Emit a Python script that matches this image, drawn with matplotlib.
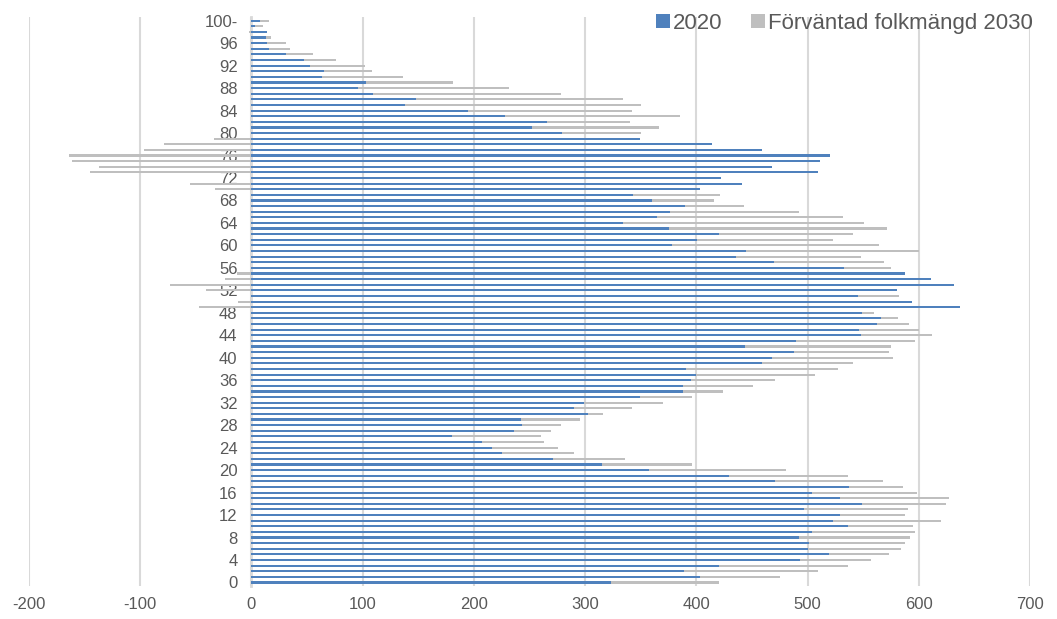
import matplotlib.pyplot as plt
import numpy as np

# åldrar 0..99 samt "100-"
ages = list(range(101))
age_labels = [str(a) for a in range(100)] + ['100-']

pop_2020 = [323, 403, 389, 420, 493, 519, 500, 501, 492, 504,
            536, 523, 529, 497, 549, 529, 504, 537, 471, 429,
            357, 315, 271, 225, 216, 207, 180, 236, 243, 242,
            303, 290, 299, 349, 388, 388, 395, 400, 391, 459,
            468, 488, 444, 490, 548, 546, 562, 566, 549, 637,
            594, 545, 580, 632, 611, 588, 533, 470, 436, 445,
            378, 401, 420, 375, 334, 365, 376, 390, 360, 343,
            403, 441, 422, 509, 468, 511, 520, 459, 414, 349,
            279, 252, 266, 228, 195, 138, 148, 109, 96, 103,
            63, 65, 53, 47, 31, 16, 14, 13, 14, 3,
            8]

pop_2030 = [420, 475, 509, 536, 557, 573, 584, 588, 592, 597,
            595, 620, 588, 590, 624, 627, 598, 586, 568, 536,
            481, 396, 336, 290, 276, 263, 260, 269, 278, 295,
            316, 342, 370, 396, 424, 451, 471, 507, 527, 541,
            577, 573, 575, 597, 612, 600, 591, 581, 560, -47,
            -12, 582, -41, -73, -24, -13, 575, 569, 548, 600,
            564, 523, 541, 571, 551, 532, 492, 443, 416, 421,
            -33, -55, 410, -145, -137, -161, -164, -97, -79, -34,
            350, 366, 340, 385, 342, 350, 334, 278, 232, 181,
            136, 108, 102, 76, 55, 35, 31, 18, -2, 10,
            16]

x_ticks = list(range(-200, 701, 100))
y_ticks = list(range(0, 101, 4))  # 0, 4, ..., 96, 100

plt.rcParams['font.family'] = ['Liberation Sans', 'DejaVu Sans']
text_color = '#595959'
grid_color = '#D9D9D9'

fig = plt.figure(figsize=(10.57, 6.19), dpi=100)
ax = fig.add_axes([0.0274, 0.0536, 0.9471, 0.9184])

ax.barh(ages, pop_2030, height=0.38, color='#BFBFBF', label='Förväntad folkmängd 2030', zorder=2)
ax.barh(ages, pop_2020, height=0.38, color='#4F81BD', label='2020', zorder=3)

ax.set_xlim(-200, 700)
ax.set_ylim(-0.6, 100.6)
ax.set_xticks(x_ticks)
ax.set_xticklabels([str(v) for v in x_ticks])
ax.set_yticks(y_ticks)
ax.set_yticklabels([age_labels[a] for a in y_ticks])

ax.tick_params(axis='both', length=0, labelsize=12, colors=text_color)
ax.tick_params(axis='x', pad=8)
ax.tick_params(axis='y', pad=10)

for s in ['top', 'right', 'bottom']:
    ax.spines[s].set_visible(False)
ax.spines['left'].set_position(('data', 0))
ax.spines['left'].set_color(grid_color)
ax.spines['left'].set_linewidth(2)
ax.spines['left'].set_zorder(1)

ax.grid(axis='x', color=grid_color, linewidth=1.5, zorder=0)
ax.set_axisbelow(True)

handles, labels = ax.get_legend_handles_labels()
leg = fig.legend(handles[::-1], labels[::-1], loc='upper right', bbox_to_anchor=(0.996, 1.012),
                 ncol=2, frameon=False, fontsize=16, handlelength=0.6, handleheight=0.6,
                 handletextpad=0.15, columnspacing=1.3, labelcolor=text_color)

plt.savefig('out.png', dpi=100)
